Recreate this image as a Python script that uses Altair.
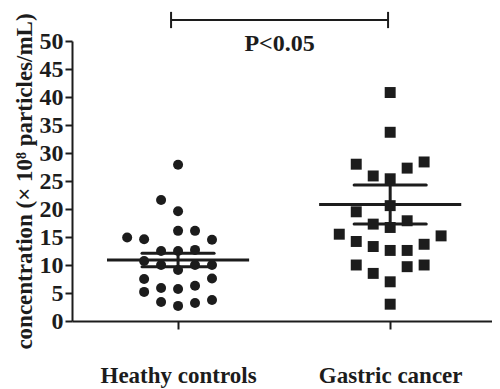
import altair as alt
import pandas as pd

# ---- data ----
categories = ["Heathy controls", "Gastric cancer"]
cat_pos = [0.5, 1.5]

healthy_vals = [27.9, 21.6, 19.6, 16.1, 16.1, 14.9, 14.6, 14.5, 12.5, 12.5, 12.7,
                10.7, 10.0, 9.1, 10.0, 10.0, 7.5, 7.6, 5.2, 5.9, 5.7, 6.3,
                3.4, 2.7, 3.2, 3.75]
healthy_slot = [0, -1, 0, 0, 1, -3, -2, 2, -1, 0, 1,
                -2, -1, 0, 1, 2, -2, 2, -2, -1, 0, 1,
                -1, 0, 1, 2]

cancer_vals = [40.8, 33.7, 28.0, 28.4, 27.3, 25.9, 25.4, 20.6, 19.5, 17.3, 17.9,
               16.7, 15.5, 15.2, 14.2, 13.3, 12.6, 12.6, 13.7, 10.0, 8.5, 9.7,
               10.0, 7.0, 3.0]
cancer_slot = [0, 0, -2, 2, 1, -1, 0, 0, -2, -1, 1,
               0, -3, 3, -2, -1, 0, 1, 2, -2, -1, 1,
               2, 0, 0]

means = [10.9, 20.8]
err_lo = [9.7, 17.3]
err_hi = [12.1, 24.3]

sig_x = [0.467, 1.49]
sig_y = 53.75
sig_cap = [52.3, 55.2]
sig_label = "P<0.05"
sig_label_y = 48.3

# ---- styling constants ----
SLOT = 0.08
MEAN_HALF = 0.335
ERR_HALF = 0.17
INK = "#1c1c1c"
FONT = "Liberation Serif"

df_h = pd.DataFrame({"y": healthy_vals, "slot": healthy_slot})
df_h["x"] = cat_pos[0] + df_h["slot"] * SLOT
df_c = pd.DataFrame({"y": cancer_vals, "slot": cancer_slot})
df_c["x"] = cat_pos[1] + df_c["slot"] * SLOT

df_stats = pd.DataFrame({"c": cat_pos, "mean": means, "lo": err_lo, "hi": err_hi})
df_stats["mx1"] = df_stats["c"] - MEAN_HALF
df_stats["mx2"] = df_stats["c"] + MEAN_HALF
df_stats["ex1"] = df_stats["c"] - ERR_HALF
df_stats["ex2"] = df_stats["c"] + ERR_HALF

xscale = alt.Scale(domain=[0, 1.98], nice=False, zero=False)
yscale = alt.Scale(domain=[0, 50], nice=False)

label_expr = "datum.value < 1 ? '%s' : '%s'" % (categories[0], categories[1])

common_axis = dict(grid=False, domainColor=INK, domainWidth=2, tickColor=INK,
                   tickWidth=2, labelColor=INK, labelFont=FONT,
                   labelFontWeight="bold", labelOverlap=False)

xaxis = alt.Axis(values=cat_pos, labelExpr=label_expr, title=None,
                 labelFontSize=23, labelPadding=35, tickSize=8, **common_axis)
yaxis = alt.Axis(values=list(range(0, 51, 5)),
                 title="concentration (× 10⁸ particles/mL)",
                 titleFontSize=23, titleFont=FONT, titleFontWeight="bold",
                 titleColor=INK, titlePadding=3, labelFontSize=24, tickSize=7,
                 labelPadding=2, **common_axis)


def X(field):
    return alt.X(field, type="quantitative", scale=xscale, axis=xaxis)


def Y(field):
    return alt.Y(field, type="quantitative", scale=yscale, axis=yaxis)


pts_h = alt.Chart(df_h).mark_point(shape="circle", filled=True, size=100,
                                   color=INK, opacity=1).encode(x=X("x"), y=Y("y"))
pts_c = alt.Chart(df_c).mark_square(size=120, color=INK, opacity=1).encode(
    x=X("x"), y=Y("y"))

stats = alt.Chart(df_stats)
mean_rule = stats.mark_rule(color=INK, strokeWidth=3).encode(
    x=X("mx1"), x2="mx2:Q", y=Y("mean"))
lo_rule = stats.mark_rule(color=INK, strokeWidth=3, strokeCap="round").encode(
    x=X("ex1"), x2="ex2:Q", y=Y("lo"))
hi_rule = stats.mark_rule(color=INK, strokeWidth=3, strokeCap="round").encode(
    x=X("ex1"), x2="ex2:Q", y=Y("hi"))
v_rule = stats.mark_rule(color=INK, strokeWidth=3).encode(
    x=X("c"), y=Y("lo"), y2="hi:Q")

df_sig = pd.DataFrame({"x1": [sig_x[0]], "x2": [sig_x[1]], "y": [sig_y]})
sig_h = alt.Chart(df_sig).mark_rule(color=INK, strokeWidth=2).encode(
    x=X("x1"), x2="x2:Q", y=Y("y"))
df_caps = pd.DataFrame({"x": sig_x, "y1": [sig_cap[0]] * 2, "y2": [sig_cap[1]] * 2})
sig_caps = alt.Chart(df_caps).mark_rule(color=INK, strokeWidth=2).encode(
    x=X("x"), y=Y("y1"), y2="y2:Q")
df_txt = pd.DataFrame({"x": [sum(sig_x) / 2], "y": [sig_label_y], "t": [sig_label]})
sig_txt = alt.Chart(df_txt).mark_text(font=FONT, fontWeight="bold", fontSize=24,
                                      color=INK, baseline="alphabetic", align="center").encode(
    x=X("x"), y=Y("y"), text="t:N")

chart = alt.layer(pts_h, pts_c, mean_rule, lo_rule, hi_rule, v_rule,
                  sig_h, sig_caps, sig_txt).properties(
    width=420, height=280,
    autosize=alt.AutoSizeParams(type="none"),
    padding={"left": 64, "top": 33, "right": 0, "bottom": 68},
).configure_view(stroke=None)

chart.save("out.html", embed_options={"renderer": "svg", "actions": False})
